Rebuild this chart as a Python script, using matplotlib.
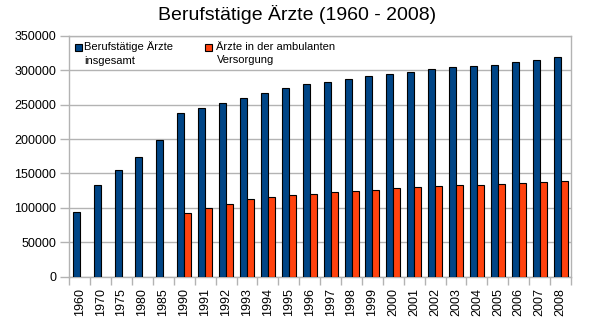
import matplotlib
matplotlib.use("Agg")
import matplotlib.pyplot as plt
from matplotlib.patches import Rectangle
import numpy as np

plt.rcParams['font.family'] = ['Liberation Sans', 'DejaVu Sans']

years = ["1960", "1970", "1975", "1980", "1985", "1990", "1991", "1992", "1993",
         "1994", "1995", "1996", "1997", "1998", "1999", "2000", "2001", "2002",
         "2003", "2004", "2005", "2006", "2007", "2008"]
total = [94000, 133500, 154500, 174000, 198500, 237500, 244500, 252000, 259500,
         267000, 274000, 280000, 283000, 287200, 291500, 294600, 297700, 301500,
         304500, 306300, 307800, 311800, 315000, 319500]
ambulant = [None, None, None, None, None, 92700, 100000, 105900, 113000,
            116000, 119300, 120500, 123300, 124800, 126300, 129200, 130600, 132100,
            133600, 133600, 135000, 136500, 138000, 139400]
series_names = ["Berufstätige Ärzte\ninsgesamt", "Ärzte in der ambulanten\nVersorgung"]
colors = ["#004586", "#ff420e"]
title = "Berufstätige Ärzte (1960 - 2008)"

W, H = 597, 324
fig = plt.figure(figsize=(W / 100, H / 100), dpi=100)
ax = fig.add_axes([69.3 / W, 1 - 276.5 / H, (571 - 69.3) / W, (276.5 - 36) / H])

x = np.arange(len(years))
bw = 0.335
ax.bar(x - bw / 2, total, width=bw, color=colors[0], edgecolor="black", linewidth=0.8, zorder=3)
amb_idx = [i for i, v in enumerate(ambulant) if v is not None]
amb_val = [ambulant[i] for i in amb_idx]
ax.bar(np.array(amb_idx) + bw / 2, amb_val, width=bw, color=colors[1], edgecolor="black",
       linewidth=0.8, zorder=3)

grid_c = "#b3b3b3"
ax.set_xlim(-0.5, len(years) - 0.5)
ax.set_ylim(0, 350000)
ax.set_yticks(np.arange(0, 350001, 50000))
ax.set_yticklabels([str(v) for v in range(0, 350001, 50000)])
ax.yaxis.grid(True, color=grid_c, linewidth=1, zorder=0)
ax.set_axisbelow(True)
for s in ax.spines.values():
    s.set_color(grid_c)
    s.set_linewidth(1)

ax.set_xticks(x)
ax.set_xticklabels(years, rotation=90)
ax.set_xticks(np.arange(-0.5, len(years)), minor=True)
ax.tick_params(axis="x", which="major", length=0, pad=8.5, labelsize=9)
ax.tick_params(axis="x", which="minor", length=6, color=grid_c, width=1)
ax.tick_params(axis="y", length=6.5, color=grid_c, width=1, pad=3, labelsize=9)

fig.text(0.497, 1 - 15 / H, title, ha="center", va="center", fontsize=14)

# legend (drawn inside the plot area, top left)
def fx(px):
    return (px - 69.3) / (571 - 69.3)

def fy(py):
    return (276.5 - py) / (276.5 - 36)

for mx, tx, name, c in [(75, 84, series_names[0], colors[0]), (205, 216.5, series_names[1], colors[1])]:
    ax.add_patch(Rectangle((fx(mx), fy(51)), fx(mx + 7) - fx(mx), fy(44) - fy(51),
                           transform=ax.transAxes, facecolor=c, edgecolor="black",
                           linewidth=0.8, zorder=5, clip_on=False))
    ax.text(fx(tx), fy(41.5), name, transform=ax.transAxes, ha="left", va="top",
            fontsize=8, linespacing=1.45, zorder=5)

fig.savefig("out.png", dpi=100)
